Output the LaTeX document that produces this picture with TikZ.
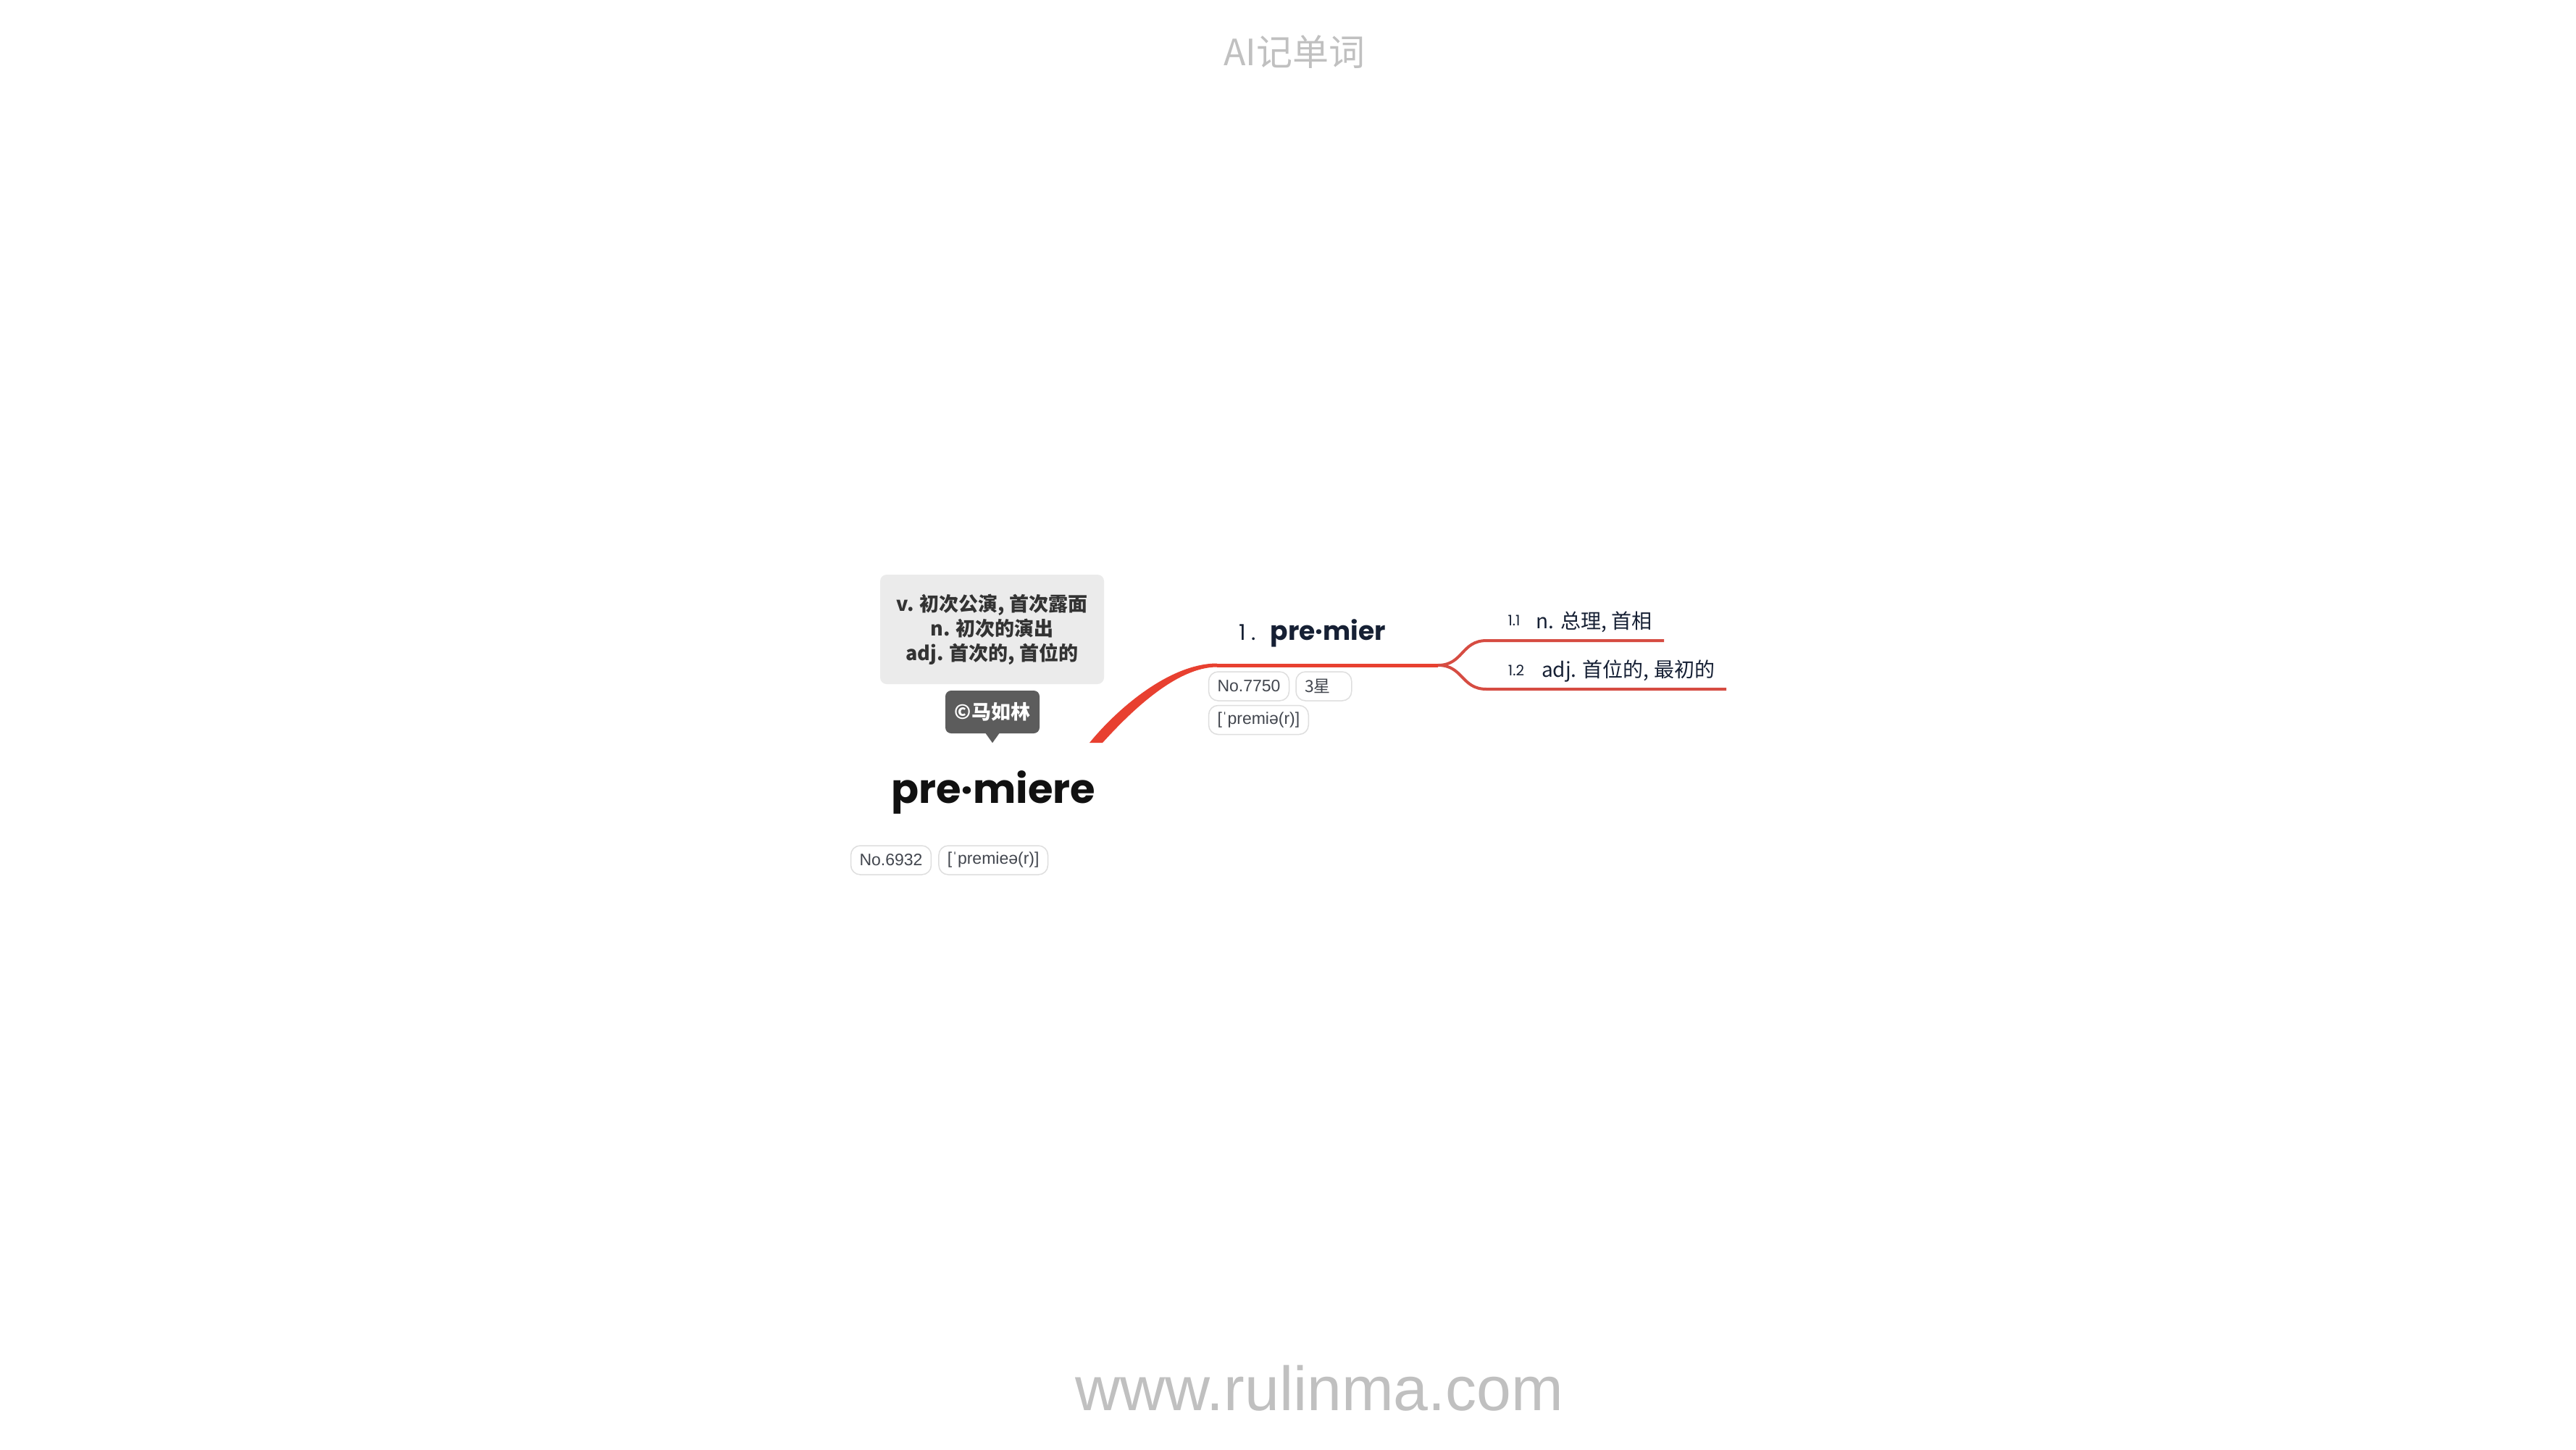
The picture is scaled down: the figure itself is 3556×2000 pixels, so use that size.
\documentclass[tikz,border=0pt]{standalone}
\usepackage{fontspec}
\usepackage{xcolor}
\usepackage{tikz}
\usetikzlibrary{calc,positioning}
\setmainfont{Liberation Sans}
\newfontfamily\cjk{Noto Sans CJK SC}
\newfontfamily\pop{Poppins}
\definecolor{mainred}{RGB}{232,64,48}
\definecolor{subred}{RGB}{214,76,66}
\definecolor{defgray}{RGB}{235,235,235}
\definecolor{deftext}{RGB}{51,51,51}
\definecolor{authgray}{RGB}{92,92,92}
\definecolor{tagline}{RGB}{222,222,222}
\definecolor{tagtext}{RGB}{66,70,78}
\definecolor{navy}{RGB}{22,32,52}
\definecolor{wmgray}{RGB}{192,192,192}
\tikzset{
  tagbox/.style={draw=tagline, line width=1.5pt, rounded corners=13pt, minimum height=40pt, inner xsep=12pt, inner ysep=0pt, text=tagtext, font=\fontsize{23}{26}\selectfont},
  sensenum/.style={anchor=base, text=navy, font=\pop\fontsize{20}{24}\selectfont},
  sensetext/.style={anchor=base, text=navy, font=\cjk\fontsize{28}{32}\selectfont},
}

\begin{document}
\begin{tikzpicture}[x=1pt,y=1pt,yscale=-1,xscale=1]
        \fill[white] (0,0) rectangle (3556,2000);

        \draw (1787,90) node (title) [anchor=base] [text=wmgray, font=\cjk\fontsize{50}{54}\selectfont] {AI记单词};
        \draw (1821,1946) node (site) [anchor=base] [text=wmgray, font=\fontsize{86}{90}\selectfont] {www.rulinma.com};

        \draw (1369.5,868.5) node (defbox) [fill=defgray, rounded corners=9pt, minimum width=309pt, minimum height=151pt, align=center] [text=deftext, font=\cjk\bfseries\fontsize{27}{34}\selectfont] {v. 初次公演, 首次露面\\n. 初次的演出\\adj. 首次的, 首位的};
        \draw (1370,982.5) node (author) [fill=authgray, rounded corners=8pt, minimum width=130pt, minimum height=59pt] [text=white, font=\cjk\bfseries\fontsize{27}{30}\selectfont] {©马如林};
        \fill[authgray] ($(author.south)+(-10,-1)$) -- ($(author.south)+(0,13)$) -- ($(author.south)+(10,-1)$) -- cycle;

        \draw (1371,1108) node (root) [anchor=base] [text={rgb,255:red,17;green,17;blue,17}, font=\pop\bfseries\fontsize{56}{60}\selectfont] {pre·miere};
        \draw (1230,1187) node (rootno) [tagbox] {No.6932};
        \node (rootipa) [tagbox, right=9pt of rootno] {[ˈpremieə(r)]};

        \coordinate (c0) at (1513,1025);
        \coordinate (c1) at (1680,918);
        \coordinate (c2) at (1985,918);
        \coordinate (c3) at (2052,884);
        \coordinate (c3e) at (2297,884);
        \coordinate (c4) at (2052,951);
        \coordinate (c4e) at (2383,951);
        \fill[mainred] ($(c0)+(-9,0)$) .. controls ($(c0)+(31,-49)$) and ($(c1)+(-64,-2.5)$) .. ($(c1)+(0,-2.5)$) -- ($(c1)+(0,2.5)$) .. controls ($(c1)+(-56,2.5)$) and ($(c0)+(48,-43)$) .. ($(c0)+(9,0)$) -- cycle;
        \draw[mainred, line width=5pt] (c1) -- (c2);
        \draw[subred, line width=4pt] (c2) .. controls +(35,0) and +(-35,0) .. (c3) -- (c3e);
        \draw[subred, line width=4pt] (c2) .. controls +(35,0) and +(-35,0) .. (c4) -- (c4e);

        \draw (1722,883) node (num1) [anchor=base] [text=navy, font=\pop\fontsize{30}{34}\selectfont] {1 .};
        \draw (1833.5,883) node (word1) [anchor=base] [text=navy, font=\pop\bfseries\fontsize{36}{40}\selectfont] {pre·mier};
        \draw (1724,947) node (no1) [tagbox] {No.7750};
        \node (star1) [tagbox, right=8pt of no1] {{\cjk 3星}\kern17pt};
        \node (ipa1) [tagbox, below=5pt of no1.south west, anchor=north west] {[ˈpremiə(r)]};

        \draw (2090,863) node (num11) [sensenum] {1.1};
        \draw (2200.5,867) node (sense11) [sensetext] {n. 总理, 首相};
        \draw (2093,932) node (num12) [sensenum] {1.2};
        \draw (2247.5,934) node (sense12) [sensetext] {adj. 首位的, 最初的};
    \end{tikzpicture}
\end{document}
